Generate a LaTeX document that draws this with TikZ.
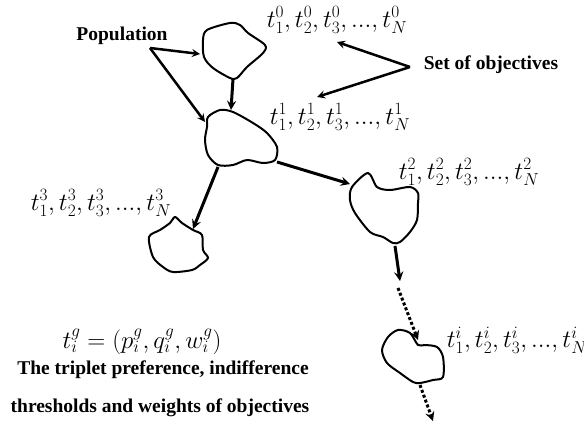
\documentclass[tikz,border=0pt]{standalone}
\usepackage{fontspec}
\setmainfont{Liberation Serif}
\begin{document}
\begin{tikzpicture}[x=1pt,y=-1pt,>=stealth,line width=2pt,
  blob/.style={line width=2pt,line join=round},
  link/.style={->,line width=3pt},
  dotlink/.style={link,dash pattern=on 3pt off 2.2pt},
  lbl/.style={font=\bfseries\fontsize{19.5}{23}\selectfont,inner sep=0pt},
  captxt/.style={font=\bfseries\fontsize{19.5}{23}\selectfont,inner sep=0pt},
  tset/.style={font=\fontsize{24}{28}\selectfont,inner sep=0pt}]
  \useasboundingbox (0,0) rectangle (584,427);

  % populations (blobs)
  \draw[blob] plot[smooth cycle] coordinates {(207,30) (230,23) (240,25) (248,33) (265,45) (263,53)
    (247,67) (237,78) (230,78) (213,68) (204,57) (203,40)};
  \draw[blob] plot[smooth cycle] coordinates {(208,117) (220,110) (233,112) (253,123) (267,133) (277,147)
    (275,160) (263,163) (247,160) (233,165) (218,165) (208,155) (205,140) (207,127)};
  \draw[blob] plot[smooth cycle] coordinates {(368,173) (377,187) (390,190) (410,187) (418,193) (418,203)
    (417,220) (410,232) (400,242) (393,243) (383,237) (370,232) (355,213) (350,200) (352,187)};
  \draw[blob] plot[smooth cycle] coordinates {(175,217) (182,223) (193,230) (202,235) (203,250) (208,258)
    (200,265) (192,270) (173,272) (163,267) (153,257) (149,237) (160,230) (170,223)};
  \draw[blob] plot[smooth cycle] coordinates {(398,330) (410,333) (418,345) (425,345) (437,347) (443,357)
    (443,377) (433,380) (420,383) (413,382) (400,373) (387,363) (382,350) (388,337)};

  % arrow ends on the blobs
  \coordinate (b0w) at (200,54);
  \coordinate (b0s) at (233,79);
  \coordinate (b1n) at (231,110);
  \coordinate (b1nw) at (205,122);
  \coordinate (b1e) at (277,162);
  \coordinate (b1s) at (218,167);
  \coordinate (b2w) at (350,184);
  \coordinate (b2s) at (395,246);
  \coordinate (b2d) at (400,281);
  \coordinate (gapa) at (398,288);
  \coordinate (bin) at (418,340);
  \coordinate (b3n) at (193,229);
  \coordinate (bis) at (420,385);
  \coordinate (out) at (433,421);

  % labels
  \node[lbl] (pop) at (122,36) {Population};
  \node[lbl] (obj) at (491,65) {Set of objectives};
  \coordinate (popx) at (150,48);
  \coordinate (objx) at (410,67);
  \coordinate (t0x) at (337,42);
  \coordinate (t1x) at (317,97);

  % sets of objectives
  \node[tset] (t0) at (337,20) {$t_1^0,t_2^0,t_3^0,...,t_N^0$};
  \node[tset] (t1) at (340,117) {$t_1^1,t_2^1,t_3^1,...,t_N^1$};
  \node[tset] (t2) at (469,172) {$t_1^2,t_2^2,t_3^2,...,t_N^2$};
  \node[tset] (t3) at (101,203) {$t_1^3,t_2^3,t_3^3,...,t_N^3$};
  \node[tset] (ti) at (517,340) {$t_1^i,t_2^i,t_3^i,...,t_N^i$};

  % formula and caption
  \node[tset,font=\fontsize{26}{30}\selectfont] (form) at (142,342) {$t_i^g=(p_i^g,q_i^g,w_i^g)$};
  \node[captxt] (cap1) at (163,370) {The triplet preference, indifference};
  \node[captxt] (cap2) at (160,408) {thresholds and weights of objectives};

  % arrows
  \draw[link,line width=2.5pt] (popx) -- (b0w);
  \draw[link,line width=2.5pt] (popx) -- (b1nw);
  \draw[link,line width=2.5pt] (objx) -- (t0x);
  \draw[link,line width=2.5pt] (objx) -- (t1x);
  \draw[link] (b0s) -- (b1n);
  \draw[link] (b1e) -- (b2w);
  \draw[link] (b1s) -- (b3n);
  \draw[link] (b2s) -- (b2d);
  \draw[dotlink] (gapa) -- (bin);
  \draw[dotlink] (bis) -- (out);
\end{tikzpicture}
\end{document}
